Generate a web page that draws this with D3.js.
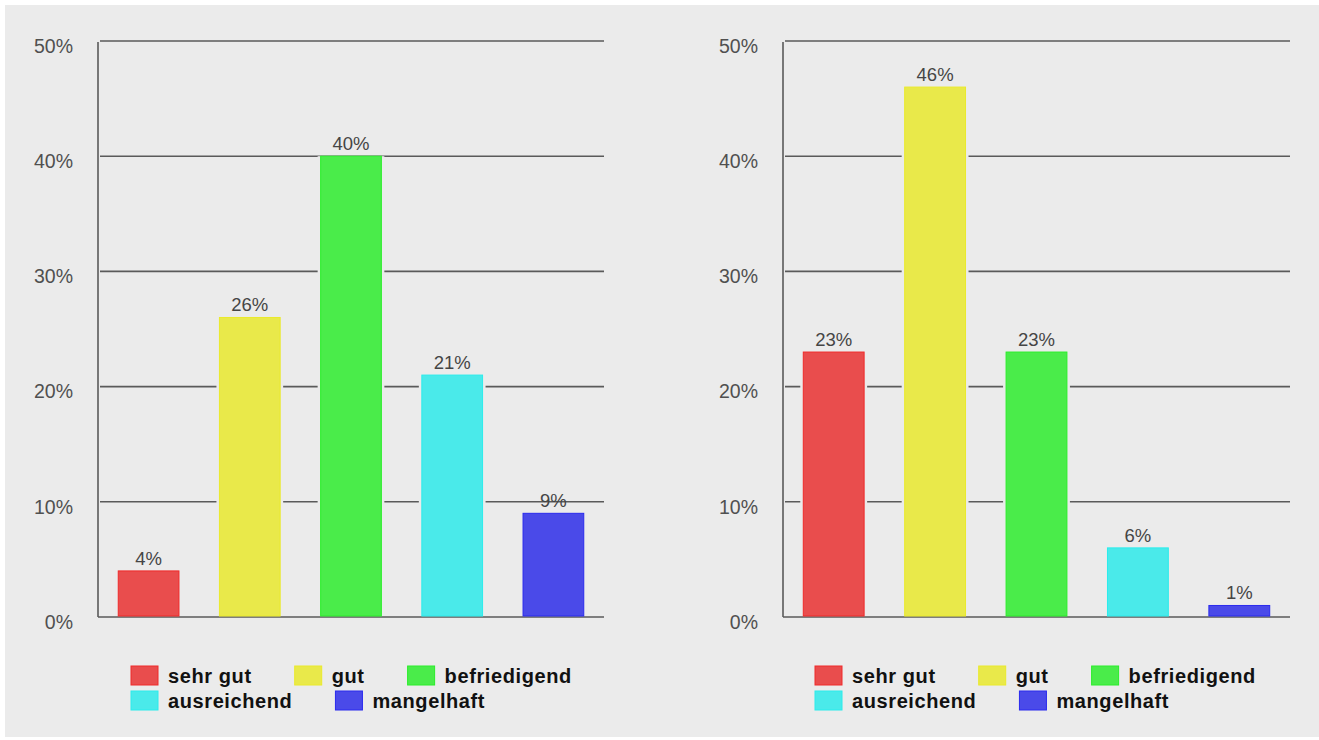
<!DOCTYPE html>
<html lang="de">
<head>
<meta charset="UTF-8">
<title>Noten</title>
<script src="https://cdn.jsdelivr.net/npm/d3@7"></script>
<style>
	body { margin: 0; background: #fff; }
	svg { display: block; font-family: "Liberation Sans", Arial, sans-serif; }
	.tick-label { font-size: 19.5px; fill: #505050; }
	.value-label { font-size: 18.5px; fill: #454545; }
	.legend-label { font-size: 20px; font-weight: bold; fill: #111; letter-spacing: 0.6px; }
</style>
</head>
<body>
<div id="viz"></div>
<script>
var categories = ['sehr gut', 'gut', 'befriedigend', 'ausreichend', 'mangelhaft'];
var valuesLeft = [4, 26, 40, 21, 9];
var valuesRight = [23, 46, 23, 6, 1];
var yTicks = [0, 10, 20, 30, 40, 50];
var fills = ['#e94d4d', '#e9e94a', '#4aec4a', '#4aeaea', '#4a4ae9'];
var strokes = ['#f02a2a', '#eaea2a', '#2aee2a', '#2aecec', '#2a2aee'];

var W = 1319, H = 740;
var bg = '#ebebeb';

var svg = d3.select('#viz').append('svg')
	.attr('width', W)
	.attr('height', H);

svg.append('rect')
	.attr('x', 5).attr('y', 5)
	.attr('width', W - 5).attr('height', H - 8)
	.attr('fill', bg);

function drawChart(left, right, values, legendX) {
	var top = 41, bottom = 617;

	var x = d3.scaleBand()
		.domain(categories)
		.range([left, right])
		.paddingInner(0.4)
		.paddingOuter(0.2);

	var y = d3.scaleLinear()
		.domain([0, 50])
		.range([bottom, top]);

	var g = svg.append('g');

	// gridlines
	g.selectAll('.grid')
		.data(yTicks.filter(function (d) { return d > 0; }))
		.enter().append('line')
		.attr('x1', left + 2)
		.attr('x2', right)
		.attr('y1', function (d) { return y(d); })
		.attr('y2', function (d) { return y(d); })
		.attr('stroke', '#5a5a5a')
		.attr('stroke-width', 1.6);

	// axes lines
	g.append('line')
		.attr('x1', left).attr('x2', left)
		.attr('y1', top + 1).attr('y2', bottom)
		.attr('stroke', '#5a5a5a').attr('stroke-width', 1.6);
	g.append('line')
		.attr('x1', left).attr('x2', right)
		.attr('y1', bottom).attr('y2', bottom)
		.attr('stroke', '#5a5a5a').attr('stroke-width', 1.6);

	// tick labels
	g.selectAll('.tick-label')
		.data(yTicks)
		.enter().append('text')
		.attr('class', 'tick-label')
		.attr('x', left - 25)
		.attr('y', function (d) { return y(d) + 5; })
		.attr('dy', '0.35em')
		.attr('text-anchor', 'end')
		.text(function (d) { return d + '%'; });

	// gap behind bars (gridlines interrupted)
	g.selectAll('.gap')
		.data(values)
		.enter().append('rect')
		.attr('x', function (d, i) { return x(categories[i]) - 3; })
		.attr('width', x.bandwidth() + 6)
		.attr('y', function (d) { return y(d); })
		.attr('height', function (d) { return bottom - 1 - y(d); })
		.attr('fill', bg);

	g.selectAll('.bar')
		.data(values)
		.enter().append('rect')
		.attr('x', function (d, i) { return x(categories[i]); })
		.attr('width', x.bandwidth())
		.attr('y', function (d) { return y(d); })
		.attr('height', function (d) { return bottom - 1 - y(d); })
		.attr('fill', function (d, i) { return fills[i]; })
		.attr('stroke', function (d, i) { return strokes[i]; })
		.attr('stroke-width', 1);

	g.selectAll('.value-label')
		.data(values)
		.enter().append('text')
		.attr('class', 'value-label')
		.attr('x', function (d, i) { return x(categories[i]) + x.bandwidth() / 2; })
		.attr('y', function (d) { return y(d) - 6; })
		.attr('text-anchor', 'middle')
		.text(function (d) { return d + '%'; });

	// legend, flowing layout
	var lg = g.append('g');
	var cx = legendX, row = 0, maxW = 470;
	categories.forEach(function (c, i) {
		var item = lg.append('g');
		item.append('rect')
			.attr('x', 0).attr('y', 0)
			.attr('width', 27).attr('height', 19)
			.attr('fill', fills[i])
			.attr('stroke', strokes[i]);
		var t = item.append('text')
			.attr('class', 'legend-label')
			.attr('x', 37)
			.attr('y', 17)
			.text(c);
		var w = 37 + t.node().getComputedTextLength();
		if (cx + w - legendX > maxW) {
			row += 1;
			cx = legendX;
		}
		item.attr('transform', 'translate(' + cx + ',' + (666 + row * 25) + ')');
		cx += w + 43;
	});
}

drawChart(98, 604, valuesLeft, 131);
drawChart(783, 1290, valuesRight, 815);
</script>
</body>
</html>
